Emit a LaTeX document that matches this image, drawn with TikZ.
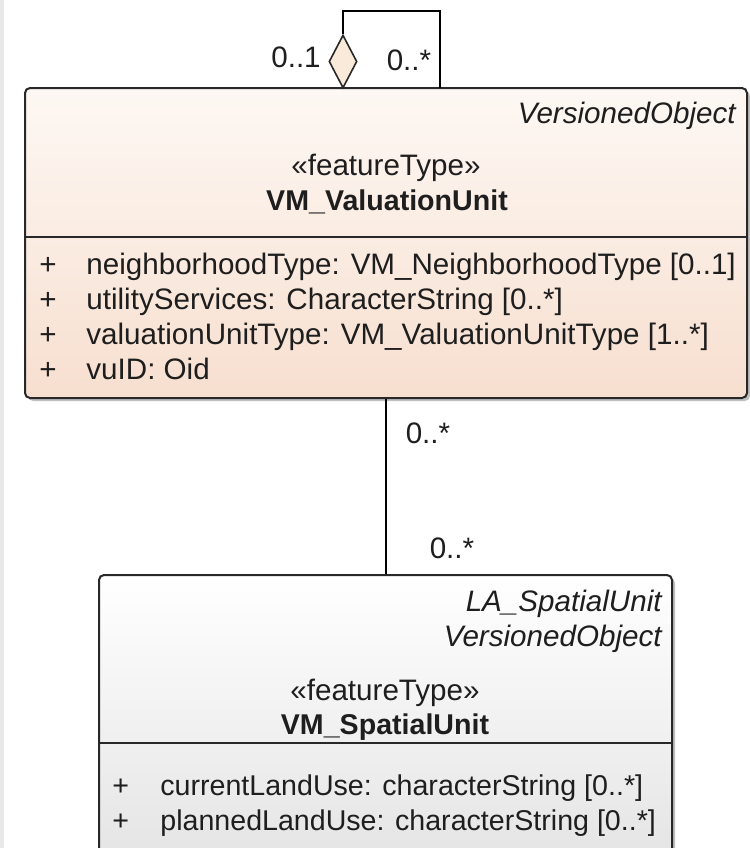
\documentclass[tikz,border=0pt]{standalone}
\usepackage{fontspec}
\setmainfont{Liberation Sans}
\usetikzlibrary{shapes.geometric,shadows}
\definecolor{peachtop}{RGB}{253,248,244}
\definecolor{peachbot}{RGB}{247,223,207}
\definecolor{graybot}{RGB}{228,228,228}
\definecolor{edge}{RGB}{40,40,40}
\definecolor{txt}{RGB}{30,30,30}
\definecolor{diamondfill}{RGB}{250,234,218}
\tikzset{
  classbox/.style={draw=edge, line width=1pt, rounded corners=2.5pt, inner sep=0pt,
    drop shadow={shadow xshift=1.5pt, shadow yshift=-1.5pt, fill=black, opacity=0.25}},
  sep/.style={draw=edge, line width=1pt},
  conn/.style={draw=black, line width=0.8pt},
  lbl/.style={font=\fontsize{14.8}{17}\selectfont, text=txt, inner sep=0pt},
  attr/.style={lbl, font=\fontsize{14.3}{17}\selectfont},
  ital/.style={lbl, font=\fontsize{14.8}{17}\selectfont\itshape},
  bold/.style={lbl, font=\fontsize{14.3}{17}\selectfont\bfseries},
}
\begin{document}
\begin{tikzpicture}[x=0.5pt,y=-0.5pt]
\useasboundingbox (0,0) rectangle (750,848);
\fill[white] (0,0) rectangle (750,848);
\fill[black!9] (0,0) rectangle (4,848);
% top class
\node[classbox, top color=peachtop, bottom color=peachbot, minimum width=361pt, minimum height=155pt] (vu) at (386,243) {};
\draw[sep] (vu.west |- 0,237) -- (vu.east |- 0,237);
\node[ital, anchor=base east] (vuparent) at (736,123) {VersionedObject};
\node[lbl, anchor=base] (vustereo) at (386,175) {«featureType»};
\node[bold, anchor=base] (vuname) at (387,210) {VM\_ValuationUnit};
\node[lbl, anchor=base west] (p1) at (39,274) {+};
\node[lbl, anchor=base west] (a1) at (86,274) {neighborhoodType: VM\_NeighborhoodType [0..1]};
\node[lbl, anchor=base west] (p2) at (39,309) {+};
\node[lbl, anchor=base west] (a2) at (86,309) {utilityServices: CharacterString [0..*]};
\node[lbl, anchor=base west] (p3) at (39,344) {+};
\node[lbl, anchor=base west] (a3) at (86,344) {valuationUnitType: VM\_ValuationUnitType [1..*]};
\node[lbl, anchor=base west] (p4) at (39,379) {+};
\node[lbl, anchor=base west] (a4) at (86,379) {vuID: Oid};
% bottom class
\node[classbox, top color=white, bottom color=graybot, minimum width=286.5pt, minimum height=145pt] (su) at (385.5,720) {};
\draw[sep] (su.west |- 0,743) -- (su.east |- 0,743);
\node[ital, anchor=base east] (suparent1) at (662,611) {LA\_SpatialUnit};
\node[ital, anchor=base east] (suparent2) at (662,646) {VersionedObject};
\node[lbl, anchor=base] (sustereo) at (385,700) {«featureType»};
\node[bold, anchor=base] (suname) at (385,734) {VM\_SpatialUnit};
\node[attr, anchor=base west] (q1) at (112,795) {+};
\node[attr, anchor=base west] (b1) at (160,795) {currentLandUse: characterString [0..*]};
\node[attr, anchor=base west] (q2) at (112,830) {+};
\node[attr, anchor=base west] (b2) at (160,830) {plannedLandUse: characterString [0..*]};
% association between classes
\draw[conn] (vu.south -| 386,0) -- (su.north -| 386,0);
\node[lbl] (m1) at (428,433) {0..*};
\node[lbl] (m2) at (452,548) {0..*};
% self aggregation
\node[diamond, draw=edge, line width=0.8pt, fill=diamondfill, inner sep=0pt, minimum width=14pt, minimum height=26.5pt] (agg) at (343,61.5) {};
\coordinate (c1) at (343,11);
\coordinate (lp) at (440,88);
\draw[conn] (agg.north) -- (c1) -| (lp);
\node[lbl] (m3) at (296,57) {0..1};
\node[lbl] (m4) at (409,60) {0..*};
\end{tikzpicture}
\end{document}
